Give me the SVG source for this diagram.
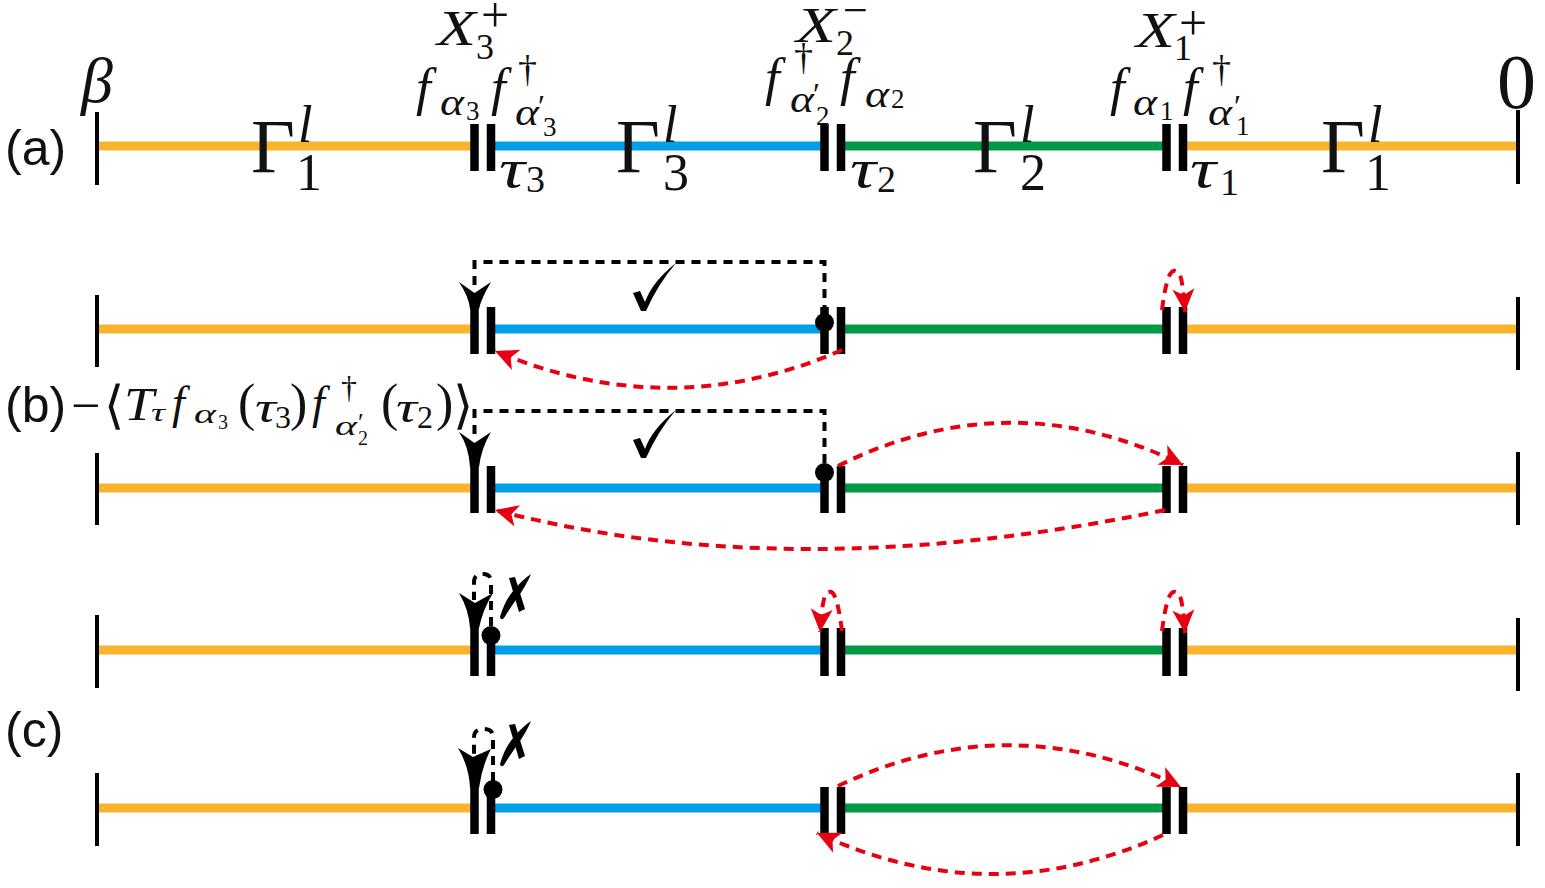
<svg xmlns="http://www.w3.org/2000/svg" width="1545" height="888" viewBox="0 0 1545 888">
<defs>
<marker id="red" markerUnits="userSpaceOnUse" markerWidth="40" markerHeight="40" refX="30" refY="20" orient="auto" overflow="visible"><path d="M30,20 L7,9 L13,20 L7,31Z" fill="#e60012"/></marker>
</defs>
<style>
text{font-family:"Liberation Serif",serif;fill:#111}
.lab{font-family:"Liberation Sans",Arial,sans-serif;font-size:50px}
.i{font-style:italic}
.g{font-size:76px}.b{font-size:52px}.x{font-size:50px;font-style:italic}.a{font-size:37px;font-style:italic}.s{font-size:27px}.f{font-size:53px;font-style:italic}.t{font-size:54px;font-style:italic}.d3{font-size:36px}.dg{font-size:38px}.p{font-size:32px}.big{font-size:50px}
.o{stroke:#f9b42d}.c{stroke:#00a0e9}.n{stroke:#009944}
.o,.c,.n{stroke-width:9;fill:none}
.bar{stroke:#000;stroke-width:8.5;fill:none}
.tick{stroke:#000;stroke-width:4;fill:none}
.d{stroke:#000;stroke-width:4;stroke-dasharray:9 7;fill:none}
.r{stroke:#e60012;stroke-width:4;stroke-dasharray:10 7;fill:none;marker-end:url(#red)}
.k{fill:#000}
</style>
<g id="row-a"><path class="o" d="M99,146H471"/><path class="c" d="M495,146H821"/><path class="n" d="M845,146H1163"/><path class="o" d="M1187,146H1516"/><path class="tick" d="M97,112V185M1518,110V184"/><path class="bar" d="M474.500,124V171M491,124V171M824.500,124V171M841,124V171M1166.500,124V171M1183,124V171"/></g>
<g id="row-b1"><path class="o" d="M99,329H471"/><path class="c" d="M495,329H821"/><path class="n" d="M845,329H1163"/><path class="o" d="M1187,329H1516"/><path class="tick" d="M97,295V367M1518,297V370"/><path class="bar" d="M474.500,307V354M491,307V354M824.500,307V354M841,307V354M1166.500,307V354M1183,307V354"/></g>
<g id="row-b2"><path class="o" d="M99,488H471"/><path class="c" d="M495,488H821"/><path class="n" d="M845,488H1163"/><path class="o" d="M1187,488H1516"/><path class="tick" d="M97,453V525M1518,452V525"/><path class="bar" d="M474.500,466V513M491,466V513M824.500,466V513M841,466V513M1166.500,466V513M1183,466V513"/></g>
<g id="row-c1"><path class="o" d="M99,650H471"/><path class="c" d="M495,650H821"/><path class="n" d="M845,650H1163"/><path class="o" d="M1187,650H1516"/><path class="tick" d="M97,615V688M1518,618V691"/><path class="bar" d="M474.500,628V676M491,628V676M824.500,628V676M841,628V676M1166.500,628V676M1183,628V676"/></g>
<g id="row-c2"><path class="o" d="M99,808H471"/><path class="c" d="M495,808H821"/><path class="n" d="M845,808H1163"/><path class="o" d="M1187,808H1516"/><path class="tick" d="M97,773V846M1518,773V846"/><path class="bar" d="M474.500,787V834M491,787V834M824.500,787V834M841,787V834M1166.500,787V834M1183,787V834"/></g>
<g id="connectors">
<path class="d" d="M824.500,314V262H474.500V285"/>
<path class="d" d="M824.500,463V411H474.500V434"/>
<path class="d" d="M491,626V582Q491,574 483,574Q474,574 474,582V600"/>
<path class="d" d="M493,781V737Q493,729 484,729Q474,729 474,737V755"/>
<path class="k" d="M459,282L474.500,293L491,282Q481,299 479,309H470Q469,297 459,282Z"/>
<path class="k" d="M459,432L474.500,443L491,432Q481,449 479,467H470Q469,447 459,432Z"/>
<path class="k" d="M459,593L475,603L493,593Q483,609 479,628H470Q469,610 459,593Z"/>
<path class="k" d="M458,748L473,757L491,749Q482,766 479,788H470Q469,766 458,748Z"/>
<circle class="k" cx="824.500" cy="322.500" r="9.500"/><circle class="k" cx="824.500" cy="472.500" r="9.500"/><circle class="k" cx="491" cy="635.500" r="9.500"/><circle class="k" cx="493" cy="789.500" r="9.500"/>
<path class="r" d="M842,350Q670,425 495,351"/>
<path class="r" d="M838,466Q1010,380 1183,465"/>
<path class="r" d="M1165,510Q790,588 495,510"/>
<path class="r" d="M838,786Q1010,704 1181,787"/>
<path class="r" d="M1163,835Q990,914 817,833"/>
<path class="r" d="M842,631C838,600 834,590 829,592C824,592 822,605 820,632"/>
<path class="r" d="M1162,631C1166,600 1170,590 1176,592C1181,592 1183,605 1185,633"/>
<path class="r" d="M1162,310C1166,279 1170,269 1176,271C1181,271 1183,284 1185,312"/>
</g>
<g id="marks">
<path class="k" d="M633,293L640,291L645,302Q652,282 676,263Q658,284 646,311L641,311Z"/>
<path class="k" d="M633,440L640,438L645,449Q652,429 676,410Q658,431 646,458L641,458Z"/>
<path class="k" d="M500,617Q505,600 514,590Q522,580 531,574Q527,584 518,597Q510,608 504,618Q501,621 500,617Z"/>
<path class="k" d="M509,578L515,577L525,609L519,612Z"/>
<path class="k" d="M500,764Q505,747 514,737Q522,727 531,721Q527,731 518,744Q510,755 504,765Q501,768 500,764Z"/>
<path class="k" d="M509,725L515,724L525,756L519,759Z"/>
</g>
<g id="labels">
<text class="lab" x="5" y="165">(a)</text><text class="lab" x="5" y="422">(b)</text><text class="lab" x="5" y="747">(c)</text>
<text class="i" font-size="64" x="81" y="102">β</text><text font-size="78" x="1497" y="108">0</text>
<text class="g" x="251" y="172">Γ</text><text class="i b" x="298" y="142">l</text><text class="b" x="296" y="190">1</text>
<text class="g" x="616" y="172">Γ</text><text class="i b" x="663" y="142">l</text><text class="b" x="663" y="190">3</text>
<text class="g" x="973" y="172">Γ</text><text class="i b" x="1020" y="142">l</text><text class="b" x="1020" y="190">2</text>
<text class="g" x="1321" y="172">Γ</text><text class="i b" x="1368" y="142">l</text><text class="b" x="1365" y="190">1</text>
<text class="x" x="437" y="45" textLength="39" lengthAdjust="spacingAndGlyphs">X</text><text class="big" x="481" y="32">+</text><text class="d3" x="476" y="59">3</text>
<text class="x" x="796" y="42" textLength="40" lengthAdjust="spacingAndGlyphs">X</text><text font-size="44" x="843" y="25">−</text><text class="d3" x="836" y="55">2</text>
<text class="x" x="1136" y="47" textLength="39" lengthAdjust="spacingAndGlyphs">X</text><text class="big" x="1179" y="40">+</text><text class="d3" x="1174" y="60">1</text>
<text class="f" x="416" y="105">f</text><text class="a" x="440" y="115" textLength="24" lengthAdjust="spacingAndGlyphs">α</text><text class="s" x="466" y="120">3</text>
<text class="f" x="491" y="105">f</text><text class="dg" x="518" y="82">†</text><text class="a" x="515" y="125" textLength="24" lengthAdjust="spacingAndGlyphs">α</text><text class="p" x="538" y="117">′</text><text class="s" x="543" y="136">3</text>
<text class="f" x="765" y="95">f</text><text class="dg" x="794" y="70">†</text><text class="a" x="790" y="112" textLength="24" lengthAdjust="spacingAndGlyphs">α</text><text class="p" x="813" y="105">′</text><text class="s" x="816" y="125">2</text>
<text class="f" x="840" y="95">f</text><text class="a" x="865" y="107" textLength="24" lengthAdjust="spacingAndGlyphs">α</text><text class="s" x="891" y="108">2</text>
<text class="f" x="1110" y="105">f</text><text class="a" x="1133" y="115" textLength="24" lengthAdjust="spacingAndGlyphs">α</text><text class="s" x="1160" y="120">1</text>
<text class="f" x="1183" y="105">f</text><text class="dg" x="1212" y="82">†</text><text class="a" x="1208" y="125" textLength="24" lengthAdjust="spacingAndGlyphs">α</text><text class="p" x="1234" y="117">′</text><text class="s" x="1236" y="135">1</text>
<text class="t" x="499" y="187" textLength="26" lengthAdjust="spacingAndGlyphs">τ</text><text class="dg" x="526" y="192">3</text>
<text class="t" x="850" y="187" textLength="26" lengthAdjust="spacingAndGlyphs">τ</text><text class="dg" x="877" y="192">2</text>
<text class="t" x="1190" y="187" textLength="26" lengthAdjust="spacingAndGlyphs">τ</text><text class="dg" x="1220" y="195">1</text>
<text font-size="52" x="71" y="423">−</text><text font-size="52" x="104" y="423">⟨</text><text class="i" font-size="46" x="124" y="420" textLength="30" lengthAdjust="spacingAndGlyphs">T</text><text class="i" font-size="26" x="151" y="421" textLength="14" lengthAdjust="spacingAndGlyphs">τ</text>
<text class="i" font-size="46" x="172" y="418">f</text><text class="i" font-size="28" x="194" y="423" textLength="22" lengthAdjust="spacingAndGlyphs">α</text><text font-size="20" x="218" y="429">3</text>
<text font-size="52" x="238" y="420">(</text><text class="i" font-size="44" x="255" y="422" textLength="21" lengthAdjust="spacingAndGlyphs">τ</text><text font-size="32" x="275" y="428">3</text><text font-size="52" x="290" y="420">)</text>
<text class="i" font-size="46" x="312" y="418">f</text><text font-size="32" x="341" y="398">†</text><text class="i" font-size="28" x="335" y="435" textLength="22" lengthAdjust="spacingAndGlyphs">α</text><text font-size="26" x="358" y="431">′</text><text font-size="20" x="358" y="445">2</text>
<text font-size="52" x="381" y="420">(</text><text class="i" font-size="44" x="396" y="422" textLength="21" lengthAdjust="spacingAndGlyphs">τ</text><text font-size="32" x="417" y="428">2</text><text font-size="52" x="436" y="420">)</text><text font-size="52" x="453" y="423">⟩</text>
</g>
</svg>
